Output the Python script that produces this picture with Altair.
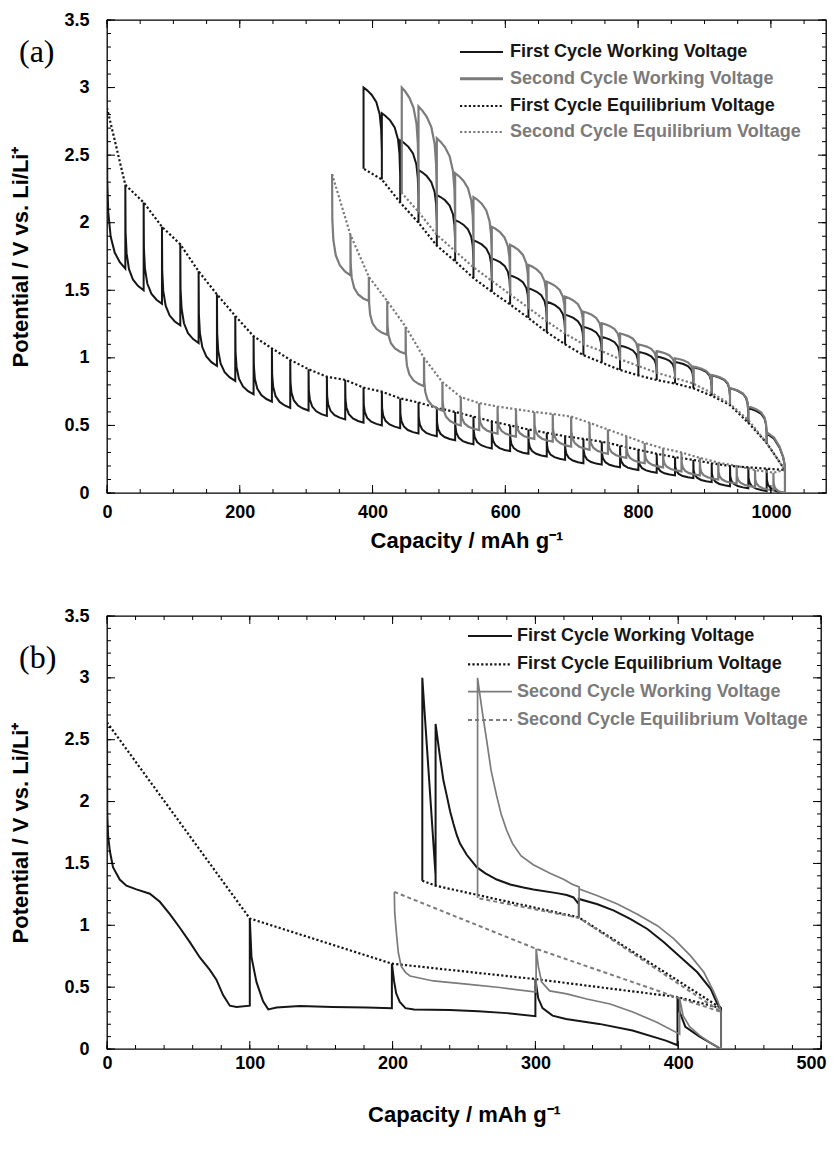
import altair as alt
import pandas as pd

BLACK = "#161616"
GRAY = "#7b7b7b"
FONT = "Liberation Sans"
SERIF = "Liberation Serif"

# ---------------- Panel (a): GITT, 1st and 2nd cycle ----------------
# first discharge: pulse boundaries, relaxed (equilibrium) values, end-of-pulse values
D1_X = [0, 27.6, 55.2, 82.8, 110.4, 138.0, 165.6, 193.2, 220.8, 248.4, 276.0, 303.6, 331.2,
        358.8, 386.4, 414.0, 441.6, 469.2, 496.8, 524.4, 552.0, 579.6, 607.2, 634.8, 662.4,
        690.0, 717.6, 745.2, 772.8, 800.4, 828.0, 855.6, 883.2, 910.8, 938.4, 966.0, 993.6, 1021.2]
D1_E = [2.85, 2.28, 2.15, 1.97, 1.84, 1.64, 1.47, 1.31, 1.16, 1.07, 0.985, 0.916, 0.86,
        0.837, 0.78, 0.75, 0.70, 0.67, 0.63, 0.60, 0.565, 0.53, 0.50, 0.47, 0.445,
        0.42, 0.40, 0.38, 0.35, 0.32, 0.29, 0.265, 0.245, 0.22, 0.20, 0.19, 0.18, 0.17]
D1_L = [1.66, 1.50, 1.40, 1.24, 1.11, 0.94, 0.83, 0.73, 0.676, 0.63, 0.61, 0.57,
        0.545, 0.52, 0.50, 0.48, 0.44, 0.42, 0.39, 0.36, 0.33, 0.31, 0.29, 0.27,
        0.245, 0.22, 0.21, 0.19, 0.17, 0.15, 0.13, 0.11, 0.08, 0.05, 0.035, 0.015, 0.0]
# first charge (capacity runs back from 1021)
C1_X = [1021.2, 993.6, 966.0, 938.4, 910.8, 883.2, 855.6, 828.0, 800.4, 772.8, 745.2, 717.6,
        690.0, 662.4, 634.8, 607.2, 579.6, 552.0, 524.4, 496.8, 469.2, 441.6, 414.0, 386.4]
C1_E = [0.17, 0.37, 0.52, 0.65, 0.72, 0.775, 0.81, 0.836, 0.87, 0.91, 0.965, 1.02,
        1.10, 1.19, 1.295, 1.395, 1.49, 1.59, 1.715, 1.83, 2.0, 2.15, 2.32, 2.40]
C1_T = [0.44, 0.627, 0.775, 0.87, 0.93, 0.97, 1.01, 1.045, 1.09, 1.155, 1.23, 1.32,
        1.415, 1.515, 1.61, 1.735, 1.87, 2.02, 2.205, 2.39, 2.61, 2.81, 3.0]
# second discharge
D2_X = [339.0, 366.7, 394.4, 422.1, 449.8, 477.5, 505.2, 532.9, 560.6, 588.3, 616.0, 643.7,
        671.4, 699.1, 726.8, 754.5, 782.2, 809.9, 837.6, 865.3, 893.0, 920.7, 948.4, 976.1,
        1003.8, 1021.2]
D2_E = [2.36, 1.91, 1.60, 1.42, 1.23, 1.0, 0.82, 0.71, 0.665, 0.64, 0.62, 0.60,
        0.585, 0.565, 0.52, 0.47, 0.42, 0.37, 0.33, 0.30, 0.26, 0.225, 0.20, 0.17, 0.15, 0.17]
D2_L = [1.61, 1.42, 1.17, 1.03, 0.79, 0.61, 0.50, 0.466, 0.44, 0.417, 0.40, 0.38,
        0.343, 0.32, 0.29, 0.26, 0.22, 0.19, 0.16, 0.13, 0.10, 0.07, 0.045, 0.02, 0.0]
# second charge
C2_X = [1021.2, 993.6, 966.0, 938.4, 910.8, 883.2, 855.6, 828.0, 800.4, 772.8, 745.2, 717.6,
        690.0, 662.4, 634.8, 607.2, 579.6, 552.0, 524.4, 496.8, 469.2, 444.0]
C2_E = [0.17, 0.37, 0.54, 0.66, 0.74, 0.81, 0.85, 0.89, 0.94, 0.99, 1.05, 1.10,
        1.18, 1.27, 1.37, 1.47, 1.57, 1.67, 1.79, 1.91, 2.08, 2.22]
C2_T = [0.45, 0.64, 0.775, 0.873, 0.935, 0.997, 1.05, 1.10, 1.18, 1.256, 1.342,
        1.453, 1.564, 1.688, 1.836, 1.97, 2.19, 2.366, 2.625, 2.86, 3.0]

# shape of one pulse, read from a representative tooth
DIS_F = [0, 0.015, 0.07, 0.2, 0.42, 0.7, 1.0]
DIS_H = [0, 0.45, 0.65, 0.8, 0.9, 0.96, 1.0]
CHG_F = [0, 0.04, 0.12, 0.3, 0.55, 0.8, 1.0]
CHG_G = [0.3, 0.55, 0.71, 0.84, 0.92, 0.97, 1.0]
# the very first charge pulse (from the end of discharge) rises more gradually
CHG0_F = [0, 0.1, 0.3, 0.6, 1.0]
CHG0_G = [0.1, 0.35, 0.62, 0.86, 1.0]

# ---------------- Panel (b) ----------------
B1W_X = [0, 0.2, 0.8, 2, 4.2, 8.9, 13.6, 20.6, 30, 37, 44, 51, 58, 65, 72, 76.6, 81.3, 86, 90.7, 100,
         100, 101.2, 104.7, 109.3, 112.9, 118.7, 135, 158, 182, 199.5,
         199.5, 201, 202.5, 205, 209, 215, 240, 260, 280, 300,
         300, 302, 305, 312, 321.4, 344.7, 368, 391.4, 399.5,
         399.5, 401, 405, 415, 430,
         430, 427.4, 422.8, 413.4, 401.7, 390, 378.4, 366.7, 355, 343.5, 330.4,
         330.4, 330.4, 326.7, 322, 315, 298.6, 291.6, 282.3, 272.9, 265, 258.9, 251.9, 247.2,
         244.9, 242.6, 240.3, 237.9, 235.6, 233.2, 230.1,
         230.1, 230.1, 220.8, 220.8]
B1W_Y = [2.64, 1.9, 1.72, 1.6, 1.47, 1.37, 1.32, 1.29, 1.255, 1.19, 1.09, 0.98, 0.864, 0.74, 0.64, 0.56, 0.436, 0.35, 0.34, 0.35,
         1.055, 0.74, 0.54, 0.385, 0.32, 0.335, 0.347, 0.34, 0.335, 0.33,
         0.69, 0.55, 0.45, 0.38, 0.33, 0.32, 0.315, 0.305, 0.29, 0.265,
         0.565, 0.41, 0.33, 0.27, 0.243, 0.203, 0.149, 0.068, 0.03,
         0.42, 0.3, 0.18, 0.1, 0.0,
         0.33, 0.365, 0.485, 0.62, 0.741, 0.863, 0.97, 1.05, 1.118, 1.17, 1.213,
         1.064, 1.17, 1.225, 1.245, 1.26, 1.29, 1.305, 1.33, 1.37, 1.42, 1.47, 1.57, 1.66,
         1.73, 1.82, 1.92, 2.05, 2.17, 2.36, 2.627,
         1.32, 1.40, 3.0, 1.36]
B2W_X = [201.2, 201.5, 202.8, 204, 206, 209, 212.2, 228.5, 251.9, 275, 300.5,
         300.5, 302, 304.4, 310, 322, 336, 352.3, 368.7, 385, 401,
         401, 403.4, 408, 415, 422, 430,
         430, 428, 425, 418, 408.7, 397, 385.4, 371.4, 357.4, 343.5, 330.6,
         330.6, 330.6, 326, 320, 310.2, 298.5, 290, 284, 279.8, 276, 272.8, 269, 265.8, 262.5, 259.5,
         259.5]
B2W_Y = [1.27, 1.1, 0.92, 0.78, 0.67, 0.62, 0.59, 0.55, 0.525, 0.497, 0.46,
         0.81, 0.67, 0.54, 0.47, 0.445, 0.404, 0.364, 0.297, 0.216, 0.12,
         0.41, 0.27, 0.18, 0.11, 0.054, 0.0,
         0.30, 0.38, 0.46, 0.62, 0.753, 0.89, 0.997, 1.09, 1.172, 1.239, 1.293,
         1.06, 1.31, 1.33, 1.37, 1.42, 1.49, 1.56, 1.66, 1.77, 1.9, 2.05, 2.25, 2.5, 2.75, 3.0,
         1.22]
B1E_X = [0, 100, 199.5, 300, 399.5, 430, 330.4, 230.1, 220.8]
B1E_Y = [2.64, 1.055, 0.69, 0.565, 0.42, 0.33, 1.064, 1.32, 1.36]
B2E_X = [201.2, 300.5, 401, 430, 330.6, 259.5]
B2E_Y = [1.27, 0.81, 0.41, 0.30, 1.06, 1.22]

LEG_A = ["First Cycle Working Voltage", "Second Cycle Working Voltage",
         "First Cycle Equilibrium Voltage", "Second Cycle Equilibrium Voltage"]
LEG_B = ["First Cycle Working Voltage", "First Cycle Equilibrium Voltage",
         "Second Cycle Working Voltage", "Second Cycle Equilibrium Voltage"]


def discharge(xs, E, L):
    pts = []
    for i in range(len(xs) - 1):
        x0, x1 = xs[i], xs[i + 1]
        for f, h in zip(DIS_F, DIS_H):
            pts.append((x0 + f * (x1 - x0), E[i] - (E[i] - L[i]) * h))
    pts.append((xs[-1], E[-1]))
    return pts


def charge(xs, E, T):
    pts = []
    for k in range(len(xs) - 1):
        x0, x1 = xs[k], xs[k + 1]
        pts.append((x0, E[k]))
        prof = zip(CHG0_F, CHG0_G) if k == 0 else zip(CHG_F, CHG_G)
        for f, g in prof:
            pts.append((x0 + f * (x1 - x0), E[k] + (T[k] - E[k]) * g))
    pts.append((xs[-1], E[-1]))
    return pts


def frame(pts):
    return pd.DataFrame({"cap": [p[0] for p in pts], "V": [p[1] for p in pts],
                         "i": list(range(len(pts)))})


def make_panel(series, xdom, xlabels, xminor, xmajor, W, H, legend, leg_pos, tag, tag_y,
               x_label_pad, x_title_pad, flush):
    xscale = alt.Scale(domain=xdom, nice=False, zero=False)
    yscale = alt.Scale(domain=[0, 3.5], nice=False, zero=False)
    xaxis = alt.Axis(values=xlabels, format="d", title="Capacity / mAh g\u207b\u00b9",
                     grid=False, ticks=False, tickSize=0, domain=False,
                     labelFlush=flush > 0, labelFlushOffset=flush,
                     labelFont=FONT, labelFontSize=18, labelFontWeight="bold", labelColor="black",
                     labelPadding=x_label_pad, titleFont=FONT, titleFontSize=22, titleFontWeight="bold",
                     titleColor="black", titlePadding=x_title_pad)
    yaxis = alt.Axis(values=[0, 0.5, 1, 1.5, 2, 2.5, 3, 3.5], format="~g",
                     title="Potential / V vs. Li/Li\u207a",
                     grid=False, ticks=False, tickSize=0, domain=False,
                     labelFont=FONT, labelFontSize=18, labelFontWeight="bold", labelColor="black",
                     labelPadding=18, titleFont=FONT, titleFontSize=22, titleFontWeight="bold",
                     titleColor="black", titlePadding=31.5)
    X = alt.X("cap:Q", scale=xscale, axis=xaxis)
    Y = alt.Y("V:Q", scale=yscale, axis=yaxis)

    layers = []
    for df, color, width, dash in series:
        kw = dict(color=color, strokeWidth=width, clip=True)
        if dash:
            kw["strokeDash"] = dash
        layers.append(alt.Chart(df).mark_line(**kw).encode(x=X, y=Y, order="i:Q"))

    yminor = [round(0.1 * k, 1) for k in range(36)]
    ymajor = [0, 0.5, 1, 1.5, 2, 2.5, 3, 3.5]
    for vals, ln in [(xminor, 4), (xmajor, 8)]:
        base = alt.Chart(pd.DataFrame({"cap": vals})).mark_rule(color="black", strokeWidth=1)
        layers.append(base.encode(x=X, y=alt.value(H), y2=alt.value(H - ln)))
        layers.append(base.encode(x=X, y=alt.value(0), y2=alt.value(ln)))
    for vals, ln in [(yminor, 4), (ymajor, 8)]:
        base = alt.Chart(pd.DataFrame({"V": vals})).mark_rule(color="black", strokeWidth=1)
        layers.append(base.encode(y=Y, x=alt.value(0), x2=alt.value(ln)))
        layers.append(base.encode(y=Y, x=alt.value(W), x2=alt.value(W - ln)))

    sx0, sx1, tx, rows = leg_pos
    for (label, color, width, dash), ry in zip(legend, rows):
        kw = dict(color=color, strokeWidth=width)
        if dash:
            kw["strokeDash"] = dash
        d = pd.DataFrame({"t": [label]})
        layers.append(alt.Chart(d).mark_rule(**kw).encode(
            x=alt.value(sx0), x2=alt.value(sx1), y=alt.value(ry)))
        layers.append(alt.Chart(d).mark_text(font=FONT, fontSize=18, fontWeight="bold", color=color,
                                             align="left", baseline="middle").encode(
            x=alt.value(tx), y=alt.value(ry), text="t:N"))

    layers.append(alt.Chart(pd.DataFrame({"t": [tag]})).mark_text(
        font=SERIF, fontSize=32, color="black", align="left", baseline="middle").encode(
        x=alt.value(-88), y=alt.value(tag_y), text="t:N"))

    return alt.layer(*layers).properties(width=W, height=H)


# panel (a)
w1a = frame(discharge(D1_X, D1_E, D1_L) + charge(C1_X, C1_E, C1_T))
w2a = frame(discharge(D2_X, D2_E, D2_L) + charge(C2_X, C2_E, C2_T))
e1a = frame(list(zip(D1_X, D1_E)) + list(zip(C1_X[1:], C1_E[1:])))
e2a = frame(list(zip(D2_X, D2_E)) + list(zip(C2_X[1:], C2_E[1:])))

DOT = [2.2, 2.2]
panel_a = make_panel(
    [(w1a, BLACK, 2.0, None), (e1a, BLACK, 2.2, DOT), (w2a, GRAY, 2.2, None), (e2a, GRAY, 2.2, DOT)],
    [0, 1083], [0, 200, 400, 600, 800, 1000], list(range(0, 1051, 50)), list(range(0, 1001, 200)),
    719, 473,
    [(LEG_A[0], BLACK, 2.0, None), (LEG_A[1], GRAY, 3.0, None),
     (LEG_A[2], BLACK, 2.2, DOT), (LEG_A[3], GRAY, 2.2, DOT)],
    (353, 396, 403, [32, 58.7, 86, 112]), "(a)", 32, 10, 9, 0)

# panel (b)
w1b = frame(list(zip(B1W_X, B1W_Y)))
w2b = frame(list(zip(B2W_X, B2W_Y)))
e1b = frame(list(zip(B1E_X, B1E_Y)))
e2b = frame(list(zip(B2E_X, B2E_Y)))
panel_b = make_panel(
    [(w1b, BLACK, 2.0, None), (e1b, BLACK, 2.2, DOT), (w2b, GRAY, 1.7, None), (e2b, GRAY, 2.0, [4, 3])],
    [0, 500], [0, 100, 200, 300, 400, 500], list(range(0, 501, 20)), list(range(0, 501, 100)),
    714, 433,
    [(LEG_B[0], BLACK, 2.0, None), (LEG_B[1], BLACK, 2.2, DOT),
     (LEG_B[2], GRAY, 1.7, None), (LEG_B[3], GRAY, 2.0, [4, 3])],
    (361, 405, 410, [20, 48.3, 75.7, 104]), "(b)", 42, 5, 32, 5)

chart = alt.vconcat(panel_a, panel_b, spacing=54).properties(
    padding={"left": 0, "top": 2, "right": 0, "bottom": 5}
).configure_view(stroke="black", strokeWidth=1.3)

chart.save("out.html", embed_options={"renderer": "svg", "actions": False})
